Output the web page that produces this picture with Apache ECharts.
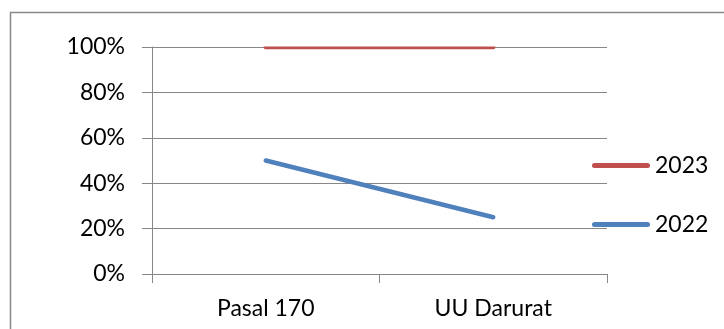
<!DOCTYPE html>
<html>
<head>
<meta charset="utf-8">
<script src="https://cdn.jsdelivr.net/npm/echarts@6/dist/echarts.min.js"></script>
<style>
  html, body { margin: 0; padding: 0; background: #fff; }
  #chart { width: 724px; height: 329px; }
</style>
</head>
<body>
<div id="chart"></div>
<script>
// Categories along the x axis
const categories = ['Pasal 170', 'UU Darurat'];
// Share per category and year (fraction of 1)
const values2023 = [1.0, 1.0];
const values2022 = [0.5, 0.25];
// Legend order, top to bottom
const legendOrder = ['2023', '2022'];

const RED = '#C0504D';
const BLUE = '#4F81BD';
const GRID_GRAY = '#878787';
const FONT = 'Lato, "Liberation Sans", sans-serif';
const FONT_SIZE = 23;

const chart = echarts.init(document.getElementById('chart'), null, { renderer: 'canvas' });

const gridBox = { left: 152, top: 47, width: 455, height: 227 };

// Legend swatch: a short bar with rounded ends
const swatch = 'path://M2.5,0 L55.5,0 A2.5,2.5 0 0 1 55.5,5 L2.5,5 A2.5,2.5 0 0 1 2.5,0 Z';

chart.setOption({
  animation: false,
  backgroundColor: '#fff',
  textStyle: { fontFamily: FONT },
  grid: { left: gridBox.left, top: gridBox.top, width: gridBox.width, height: gridBox.height, containLabel: false },
  legend: {
    data: legendOrder.map(name => ({ name, icon: swatch })),
    orient: 'vertical',
    left: 592,
    top: 154,
    padding: 0,
    itemGap: 36,
    itemWidth: 58,
    itemHeight: 5,
    textStyle: { fontFamily: FONT, fontSize: FONT_SIZE, color: '#000', lineHeight: 23 }
  },
  xAxis: {
    type: 'category',
    data: categories,
    boundaryGap: true,
    axisLine: { show: true, lineStyle: { color: GRID_GRAY, width: 1 } },
    axisTick: { show: true, length: 9, inside: false, lineStyle: { color: GRID_GRAY, width: 1 } },
    axisLabel: { fontFamily: FONT, fontSize: FONT_SIZE, color: '#000', margin: 23 },
    splitLine: { show: false }
  },
  yAxis: {
    type: 'value',
    min: 0,
    max: 1,
    interval: 0.2,
    axisLine: { show: true, lineStyle: { color: GRID_GRAY, width: 1 } },
    axisTick: { show: true, length: 10, lineStyle: { color: GRID_GRAY, width: 1 } },
    axisLabel: {
      fontFamily: FONT, fontSize: FONT_SIZE, color: '#000', margin: 27,
      formatter: v => Math.round(v * 100) + '%'
    },
    splitLine: { show: true, lineStyle: { color: GRID_GRAY, width: 1 } }
  },
  series: [
    {
      name: '2023',
      type: 'line',
      data: values2023,
      symbol: 'none',
      color: RED,
      lineStyle: { color: RED, width: 4.5, cap: 'round', join: 'round' },
      z: 2
    },
    {
      name: '2022',
      type: 'line',
      data: values2022,
      symbol: 'none',
      color: BLUE,
      lineStyle: { color: BLUE, width: 4.5, cap: 'round', join: 'round' },
      z: 3
    }
  ]
});

// Outer chart frame, plus a white band that trims anything drawn above the plot's top edge
const topY = chart.convertToPixel({ yAxisIndex: 0 }, 1);
const leftX = chart.convertToPixel({ xAxisIndex: 0 }, 0) - gridBox.width / 4;
chart.setOption({
  graphic: [
    {
      type: 'rect',
      shape: { x: 10.5, y: 12.5, width: 760, height: 400 },
      style: { fill: 'none', stroke: '#898989', lineWidth: 1.5 },
      silent: true,
      z: -1
    },
    {
      type: 'rect',
      shape: { x: leftX + 1, y: 14, width: gridBox.width - 1, height: topY - 14 - 0.5 },
      style: { fill: '#fff' },
      silent: true,
      z: 100
    }
  ]
});
</script>
</body>
</html>
